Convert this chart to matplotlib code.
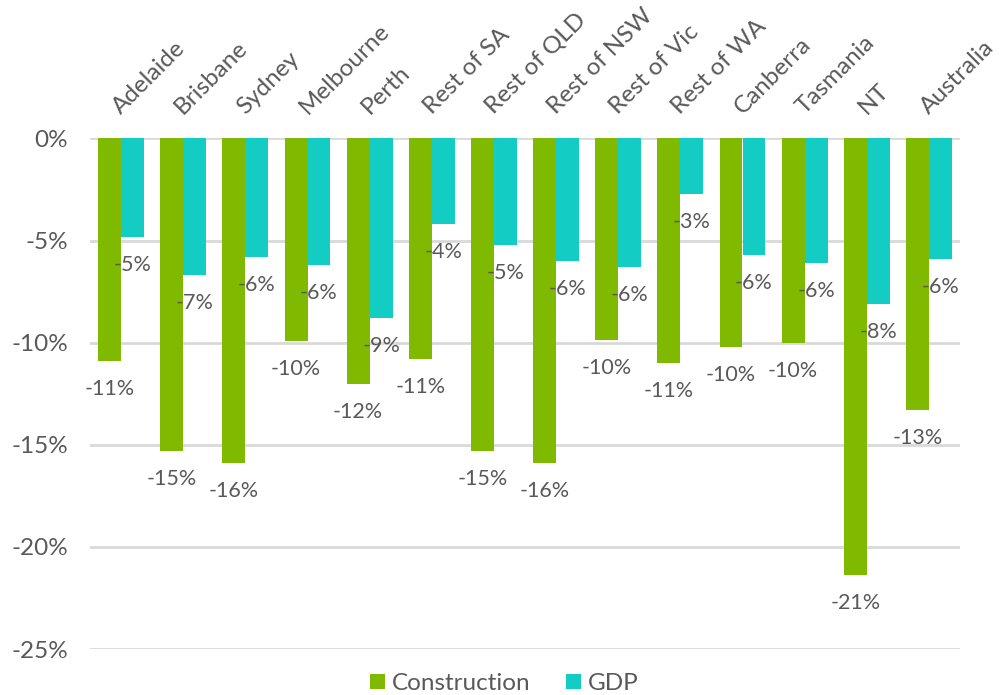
import matplotlib
matplotlib.use("Agg")
import matplotlib.pyplot as plt
import numpy as np

categories = ["Adelaide", "Brisbane", "Sydney", "Melbourne", "Perth", "Rest of SA",
              "Rest of QLD", "Rest of NSW", "Rest of Vic", "Rest of WA", "Canberra",
              "Tasmania", "NT", "Australia"]
construction = [-10.9, -15.3, -15.9, -9.9, -12.0, -10.8, -15.3, -15.9, -9.85, -11.0,
                -10.2, -10.0, -21.4, -13.3]
gdp = [-4.8, -6.7, -5.8, -6.2, -8.8, -4.2, -5.2, -6.0, -6.3, -2.7, -5.7, -6.1, -8.1, -5.9]
yticks = [0, -5, -10, -15, -20, -25]

GREEN = "#7fba00"
TEAL = "#13cdc5"
TXT = "#595959"
FONT = "Lato"

plt.rcParams['font.family'] = [FONT, 'DejaVu Sans']

fig = plt.figure(figsize=(10.05, 6.95), dpi=100)
ax = fig.add_axes([90/1005, 1-649/695, 870/1005, (649-138.5)/695])

x = np.arange(len(categories))
w = 0.37
b1 = ax.bar(x - w/2, construction, w, color=GREEN, label="Construction", zorder=3)
b2 = ax.bar(x + w/2, gdp, w, color=TEAL, label="GDP", zorder=3)

for bars, vals in ((b1, construction), (b2, gdp)):
    for rect, v in zip(bars, vals):
        ax.annotate(f"{round(v):.0f}%", (rect.get_x() + rect.get_width()/2, v),
                    xytext=(0, -18), textcoords="offset pixels", ha="center", va="top",
                    fontsize=15.5, color=TXT, zorder=4)

ax.set_xlim(-0.5, len(categories) - 0.5)
ax.set_ylim(-25, 0)
ax.set_yticks(yticks)
ax.set_yticklabels([f"{t}%" for t in yticks], fontsize=17.5, color=TXT)
ax.yaxis.grid(True, color="#d9d9d9", linewidth=2, zorder=0)
ax.tick_params(axis="y", length=0, pad=16)
for s in ax.spines.values():
    s.set_visible(False)

ax.xaxis.tick_top()
ax.set_xticks(x)
ax.set_xticklabels(categories, rotation=45, ha="left", va="baseline",
                   rotation_mode="anchor", fontsize=17.5, color=TXT)
ax.tick_params(axis="x", length=0, pad=17)

fig.legend(handles=[b1, b2], loc="lower center", bbox_to_anchor=(0.502, -0.03),
           ncol=2, frameon=False, fontsize=17.5, handlelength=0.6, handleheight=0.6,
           handletextpad=0.3, columnspacing=1.45, labelcolor=TXT)

fig.savefig("out.png", dpi=100, facecolor="white")
